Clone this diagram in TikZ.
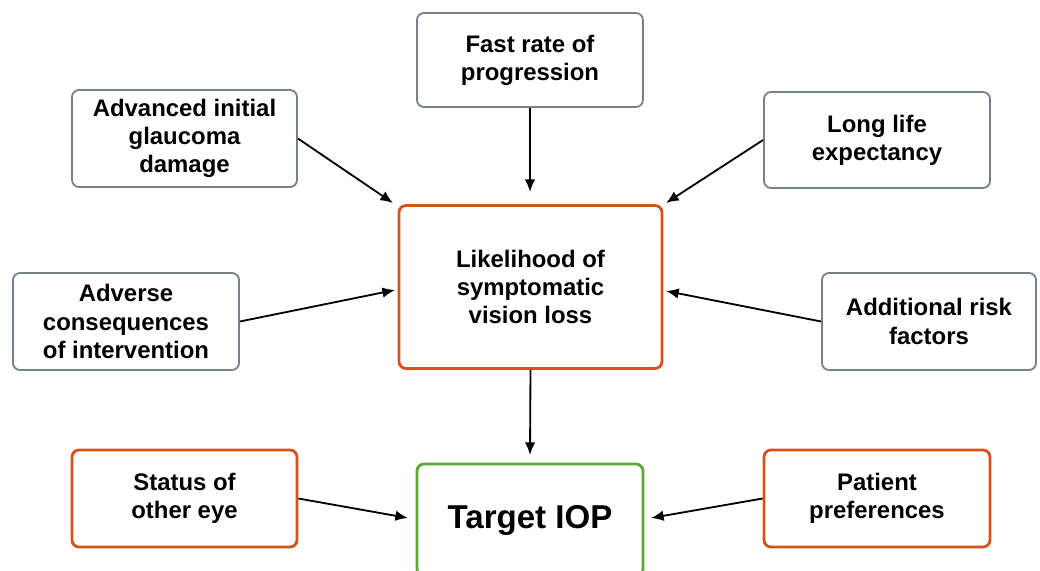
\documentclass[tikz,border=0pt]{standalone}
\usepackage{fontspec}
\setmainfont{Liberation Sans}
\usetikzlibrary{arrows.meta}
\definecolor{boxgray}{RGB}{120,128,136}
\definecolor{boxorange}{RGB}{214,82,28}
\definecolor{boxgreen}{RGB}{92,168,52}
\begin{document}
\begin{tikzpicture}[x=0.025cm,y=-0.025cm,
  factor/.style={draw=boxgray,line width=1.3pt,rounded corners=5pt,fill=white,
    align=center,inner sep=0pt,font=\fontsize{17}{20}\selectfont\bfseries},
  keybox/.style={factor,draw=boxorange,line width=2pt},
  goalbox/.style={factor,draw=boxgreen,line width=2pt},
  arr/.style={-{Latex[length=9pt,width=7.5pt]},line width=1.3pt}]
  \useasboundingbox (0,0) rectangle (1040,571);
  % factors
  \node[factor,minimum width=226*0.025cm,minimum height=94*0.025cm] (fast) at (530,60) {Fast rate of\\progression};
  \node[factor,minimum width=225*0.025cm,minimum height=97*0.025cm] (advinit) at (184.5,138.5) {Advanced initial\\glaucoma\\damage};
  \node[factor,minimum width=226*0.025cm,minimum height=96*0.025cm] (lifeexp) at (877,140) {Long life\\expectancy};
  \node[keybox,minimum width=263*0.025cm,minimum height=163*0.025cm] (likely) at (530.5,287) {Likelihood of\\symptomatic\\vision loss};
  \node[factor,minimum width=226*0.025cm,minimum height=97*0.025cm] (adverse) at (126,321.5) {Adverse\\consequences\\of intervention};
  \node[factor,minimum width=214*0.025cm,minimum height=97*0.025cm] (addrisk) at (929,321.5) {Additional risk\\factors};
  \node[keybox,minimum width=225*0.025cm,minimum height=97*0.025cm] (othereye) at (184.5,498.5) {Status of\\other eye};
  \node[keybox,minimum width=226*0.025cm,minimum height=97*0.025cm] (prefs) at (877,498.5) {Patient\\preferences};
  \node[goalbox,minimum width=226*0.025cm,minimum height=112*0.025cm,font=\fontsize{23.5}{26}\selectfont\bfseries] (target) at (530,520) {Target IOP};
  % arrow tips
  \coordinate (tfast) at (530,192);
  \coordinate (tadvinit) at (393,203);
  \coordinate (tlifeexp) at (666,203);
  \coordinate (tadverse) at (395,290);
  \coordinate (taddrisk) at (666,291);
  \coordinate (tlikely) at (530,455);
  \coordinate (tothereye) at (408,518);
  \coordinate (tprefs) at (651,518);
  % connectors
  \draw[arr] (fast.south) -- (tfast);
  \draw[arr] (advinit.east) -- (tadvinit);
  \draw[arr] (lifeexp.west) -- (tlifeexp);
  \draw[arr] (adverse.east) -- (tadverse);
  \draw[arr] (addrisk.west) -- (taddrisk);
  \draw[arr] (likely.south) -- (tlikely);
  \draw[arr] (othereye.east) -- (tothereye);
  \draw[arr] (prefs.west) -- (tprefs);
\end{tikzpicture}
\end{document}
